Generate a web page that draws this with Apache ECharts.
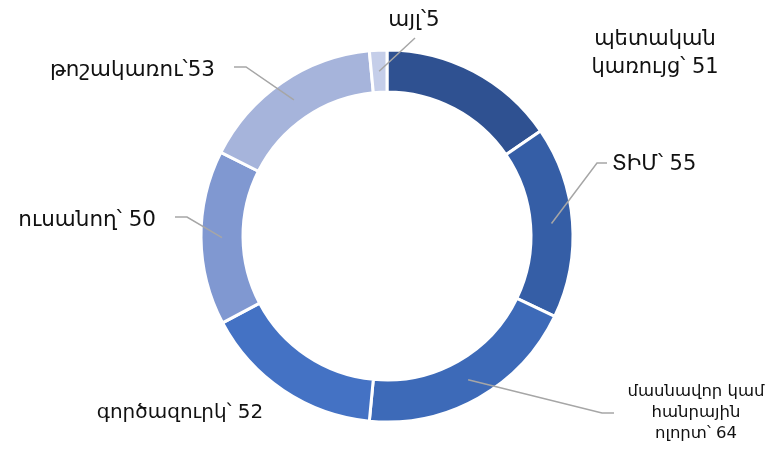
<!DOCTYPE html>
<html>
<head>
<meta charset="utf-8">
<script src="https://cdn.jsdelivr.net/npm/echarts@6/dist/echarts.min.js"></script>
<style>
  html, body { margin: 0; padding: 0; background: #fff; }
  #chart { width: 768px; height: 450px; }
</style>
</head>
<body>
<div id="chart"></div>
<script>
const categories = ["պետական\nկառույց", "ՏԻՄ", "մասնավոր կամ\nհանրային\nոլորտ", "գործազուրկ", "ուսանող", "թոշակառու", "այլ"];
const values = [51, 55, 64, 52, 50, 53, 5];
const separators = ["՝ ", "՝ ", "՝ ", "՝ ", "՝ ", "՝", "՝"];
const colors = ["#2f5191", "#355ea6", "#3d6ab8", "#4472c4", "#8098d1", "#a6b4db", "#c5cee9"];

const cx = 387, cy = 236, rIn = 144, rOut = 186;

// where each label sits and which way it faces
const spots = [
  { x: 655, y: 54, align: "center", line: false, size: 21, lh: 28 },
  { x: 612, y: 165, align: "left", line: true, size: 21, lh: 24 },
  { x: 696, y: 413, align: "center", line: true, size: 16.5, lh: 21, lx: 614 },
  { x: 180, y: 413, align: "center", line: false, size: 20, lh: 24 },
  { x: 156, y: 220, align: "right", line: true, size: 21.5, lh: 24 },
  { x: 215, y: 70, align: "right", line: true, size: 21.5, lh: 24 },
  { x: 414, y: 20, align: "center", line: true, size: 21.5, lh: 24 }
];

const total = values.reduce((a, b) => a + b, 0);
function midPoint(i) {
  let before = 0;
  for (let k = 0; k < i; k++) before += values[k];
  const ang = (before + values[i] / 2) / total * Math.PI * 2;
  const r = (rIn + rOut) / 2;
  return [cx + r * Math.sin(ang), cy - r * Math.cos(ang)];
}

const chart = echarts.init(document.getElementById("chart"));

const ring = {
  type: "pie",
  center: [cx, cy],
  radius: [rIn, rOut],
  startAngle: 90,
  clockwise: true,
  silent: true
};

const option = {
  animation: false,
  color: colors,
  series: [
    // the donut itself
    Object.assign({}, ring, {
      z: 2,
      itemStyle: { borderColor: "#fff", borderWidth: 3 },
      label: { show: false },
      labelLine: { show: false },
      data: values.map((v, i) => ({ value: v, name: categories[i] }))
    }),
    // invisible copy on top that carries the labels, so leader lines sit above the ring
    Object.assign({}, ring, {
      z: 5,
      itemStyle: { color: "rgba(0,0,0,0)", borderWidth: 0 },
      avoidLabelOverlap: false,
      label: {
        show: true,
        position: "outside",
        color: "#111",
        fontFamily: "DejaVu Sans",
        fontSize: 21,
        formatter: p => categories[p.dataIndex] + separators[p.dataIndex] + p.value
      },
      labelLine: {
        show: true,
        showAbove: true,
        lineStyle: { color: "#a6a6a6", width: 1.5 }
      },
      labelLayout: params => {
        const i = params.dataIndex;
        const s = spots[i];
        const start = midPoint(i);
        let pts;
        if (i === 6) {
          pts = [start, [s.x + 1, s.y + 18], [s.x + 1, s.y + 18]];
        } else if (s.align === "right") {
          pts = [start, [s.x + 31, s.y - 3], [s.x + 19, s.y - 3]];
        } else if (i === 2) {
          pts = [start, [s.lx - 12, s.y], [s.lx, s.y]];
        } else {
          pts = [start, [s.x - 15, s.y - 2], [s.x - 5, s.y - 2]];
        }
        return {
          x: s.x,
          y: s.y,
          align: s.align,
          verticalAlign: "middle",
          fontSize: s.size,
          labelLinePoints: s.line ? pts : null
        };
      },
      data: values.map((v, i) => ({
        value: v,
        name: categories[i],
        label: { fontSize: spots[i].size, lineHeight: spots[i].lh, align: spots[i].align },
        labelLine: { show: spots[i].line }
      }))
    })
  ]
};

chart.setOption(option);
</script>
</body>
</html>
